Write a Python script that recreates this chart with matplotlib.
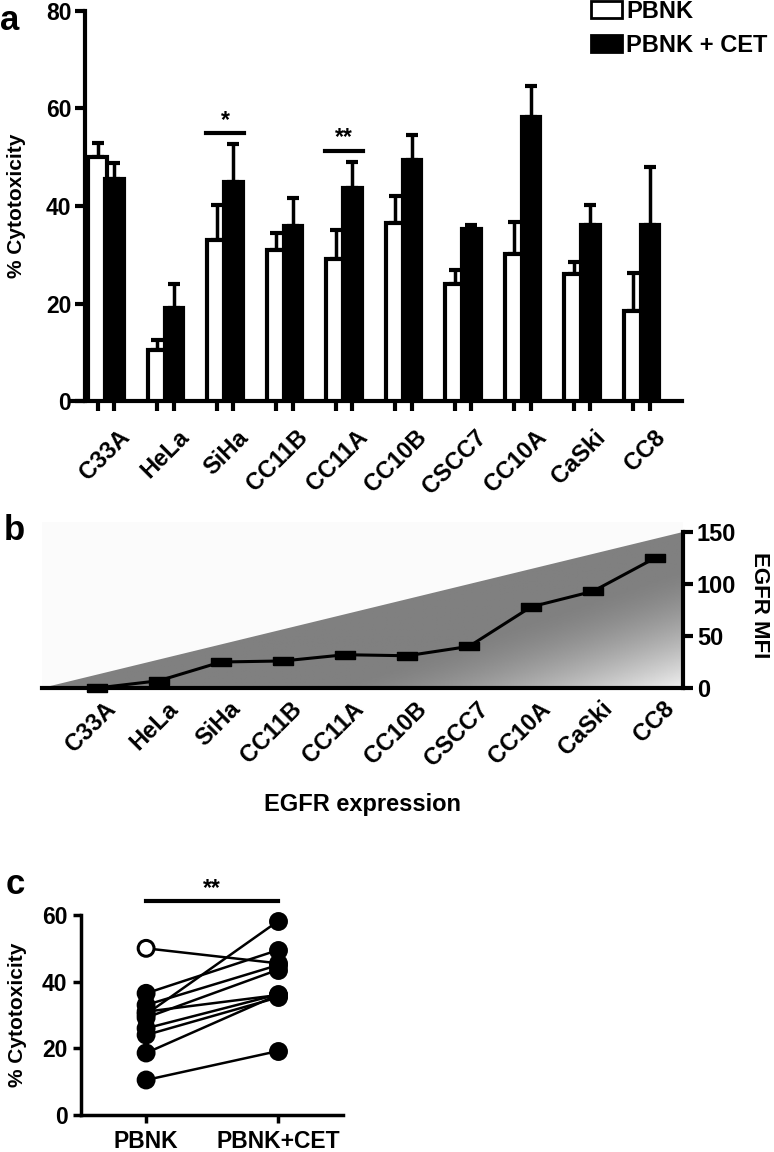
import matplotlib
matplotlib.use("Agg")
import matplotlib.pyplot as plt
import numpy as np
from matplotlib.patches import Patch, Polygon

plt.rcParams["font.family"] = ["Liberation Sans", "DejaVu Sans"]
plt.rcParams["font.weight"] = "bold"
plt.rcParams["axes.labelweight"] = "bold"

# ---- data -------------------------------------------------------------
cell_lines = ["C33A", "HeLa", "SiHa", "CC11B", "CC11A", "CC10B",
              "CSCC7", "CC10A", "CaSki", "CC8"]
pbnk = [50.0, 10.5, 33.0, 31.0, 29.2, 36.5, 24.0, 30.2, 26.0, 18.6]
pbnk_err = [3.0, 2.0, 7.3, 3.5, 5.8, 5.5, 3.0, 6.6, 2.5, 7.7]
pbnk_cet = [45.5, 19.2, 45.0, 36.0, 43.6, 49.5, 35.3, 58.2, 36.2, 36.1]
pbnk_cet_err = [3.4, 4.8, 7.7, 5.7, 5.4, 5.1, 0.9, 6.3, 4.0, 11.9]
egfr_mfi = [0, 7, 25, 26, 32, 31, 40, 78, 93, 125]
paired_labels = ["PBNK", "PBNK+CET"]

FS = 16.5
fig = plt.figure(figsize=(7.74, 11.52), dpi=100)


def px_axes(x0, y0, x1, y1):
    """Axes from pixel box (top-left origin)."""
    W, H = 774, 1152
    return fig.add_axes([x0 / W, 1 - y1 / H, (x1 - x0) / W, (y1 - y0) / H])


# ======================================================================
#  panel a: grouped bars
# ======================================================================
ax = px_axes(72, 10.7, 682, 401.4)
x = np.arange(len(cell_lines))
off, w = 0.14, 0.31
ax.bar(x - off, pbnk, w, color="white", edgecolor="black", linewidth=3, zorder=3)
ax.bar(x + off, pbnk_cet, w, color="black", edgecolor="black", linewidth=3, zorder=4)
ax.errorbar(x - off, pbnk, yerr=[np.zeros(len(x)), pbnk_err], fmt="none",
            ecolor="black", elinewidth=2.5, capsize=4, capthick=3, zorder=2)
ax.errorbar(x + off, pbnk_cet, yerr=[np.zeros(len(x)), pbnk_cet_err], fmt="none",
            ecolor="black", elinewidth=2.5, capsize=4, capthick=3, zorder=2)
ax.set_xlim(-0.571, 9.68)
ax.set_ylim(0, 80)
ax.spines[["top", "right"]].set_visible(False)
ax.spines["left"].set_position(("data", -0.35))
for s in ("left", "bottom"):
    ax.spines[s].set_linewidth(3)
ax.set_yticks([0, 20, 40, 60, 80])
ax.set_xticks(np.concatenate([x - off, x + off]))
ax.set_xticklabels([])
ax.tick_params(axis="both", direction="out", length=7, width=3, labelsize=FS)
ax.tick_params(axis="y", pad=3)
for i, name in enumerate(cell_lines):
    ax.text(i + 0.2, -5, name, rotation=45, ha="right", va="top",
            rotation_mode="anchor", fontsize=FS + 0.5, fontweight="bold")
ax.set_ylabel("% Cytotoxicity", fontsize=15)
ax.yaxis.set_label_coords(-0.075, 0.5)

# significance marks
for gi, txt, yb in [(2, "*", 54.9), (4, "**", 51.3)]:
    ax.plot([gi - 0.32, gi + 0.32], [yb, yb], color="black", lw=3)
    ax.text(gi, yb + 0.3, txt, ha="center", va="bottom", fontsize=FS, fontweight="bold")

fig.legend(handles=[Patch(facecolor="white", edgecolor="black", linewidth=2),
                    Patch(facecolor="black", edgecolor="black", linewidth=2)],
           labels=["PBNK", "PBNK + CET"], loc="upper left",
           bbox_to_anchor=(591 / 774, 1 - 0 / 1152), frameon=False,
           handlelength=1.3, handleheight=0.75, handletextpad=0.2,
           labelspacing=0.45, borderpad=0, borderaxespad=0,
           prop={"weight": "bold", "size": 17})

fig.text(0 / 774, 1 - 20 / 1152, "a", fontsize=25, fontweight="bold", va="center")

# ======================================================================
#  panel b: EGFR MFI over gradient triangle
# ======================================================================
bx = px_axes(42, 522, 683, 688)
xl, xr = -0.887, 9.45
bx.set_xlim(xl, xr)
bx.set_ylim(0, 159.6)
bx.set_facecolor("#fbfbfb")
nx, ny = 500, 200
gx, gy = np.meshgrid(np.linspace(0, 1, nx), np.linspace(0, 1, ny))
s = np.clip((gx - 0.45) / 0.55 - 1.3 * gy, 0, 1) ** 1.5
gval = 0.5 + 0.44 * s
im = bx.imshow(gval, cmap="gray", vmin=0, vmax=1, origin="lower",
               extent=[xl, xr, 0, 150], aspect="auto", zorder=1,
               interpolation="bilinear")
tri = Polygon([(xl, 0), (xr, 150), (xr, 0)], closed=True, transform=bx.transData,
              facecolor="none", edgecolor="none")
bx.add_patch(tri)
im.set_clip_path(tri)

rect = [(-1, -0.4), (1, -0.4), (1, 0.4), (-1, 0.4), (-1, -0.4)]
bx.plot(x, egfr_mfi, color="black", lw=2.2, marker=rect, markersize=15,
        markerfacecolor="black", markeredgecolor="black", zorder=3, clip_on=False)

bx.spines[["top", "left"]].set_visible(False)
bx.spines["right"].set_bounds(0, 150)
bx.spines["right"].set_linewidth(3)
bx.spines["bottom"].set_linewidth(3)
bx.yaxis.tick_right()
bx.set_yticks([0, 50, 100, 150])
bx.tick_params(axis="y", direction="out", length=7, width=3, labelsize=17, pad=3)
bx.set_xticks(x)
bx.set_xticklabels([])
bx.tick_params(axis="x", length=0)
for i, name in enumerate(cell_lines):
    bx.text(i + 0.12, -9, name, rotation=45, ha="right", va="top",
            rotation_mode="anchor", fontsize=FS + 0.5, fontweight="bold")
fig.text(760 / 774, 1 - 605 / 1152, "EGFR MFI", rotation=270, ha="center",
         va="center", fontsize=16, fontweight="bold")
bx.text(0.5, -0.7, "EGFR expression", transform=bx.transAxes, ha="center",
        va="center", fontsize=17, fontweight="bold")

fig.text(4 / 774, 1 - 530 / 1152, "b", fontsize=25, fontweight="bold", va="center")

# ======================================================================
#  panel c: paired before/after
# ======================================================================
cx = px_axes(80.7, 915, 343, 1115)
cx.set_xlim(-0.495, 1.49)
cx.set_ylim(0, 60)
for a, b in zip(pbnk, pbnk_cet):
    cx.plot([0, 1], [a, b], color="black", lw=1.8, zorder=2)
face = ["white" if i == 0 else "black" for i in range(len(pbnk))]
cx.scatter(np.zeros(len(pbnk)), pbnk, s=130, c=face, edgecolors="black",
           linewidths=2.2, zorder=3, clip_on=False)
cx.scatter(np.ones(len(pbnk_cet)), pbnk_cet, s=130, c="black", edgecolors="black",
           linewidths=2.2, zorder=3, clip_on=False)
cx.spines[["top", "right"]].set_visible(False)
for s_ in ("left", "bottom"):
    cx.spines[s_].set_linewidth(2.5)
cx.set_yticks([0, 20, 40, 60])
cx.set_xticks([0, 1])
cx.set_xticklabels(paired_labels)
cx.tick_params(axis="both", direction="out", length=6, width=2.5, labelsize=FS)
cx.tick_params(axis="x", pad=5)
cx.set_ylabel("% Cytotoxicity", fontsize=15)
cx.yaxis.set_label_coords(-0.205, 0.5)
cx.plot([0, 1], [64.2, 64.2], color="black", lw=3, clip_on=False)
cx.text(0.5, 64.6, "**", ha="center", va="bottom", fontsize=FS, fontweight="bold")

fig.text(6 / 774, 1 - 884 / 1152, "c", fontsize=25, fontweight="bold", va="center")

fig.savefig("out.png", dpi=100)
